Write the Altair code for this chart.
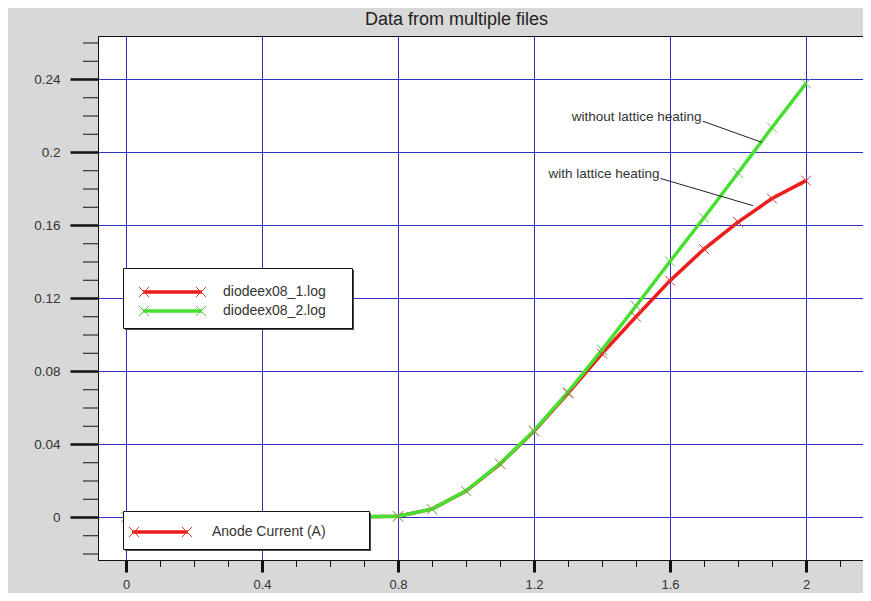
import altair as alt
import pandas as pd

# ---------------- data ----------------
x_vals = [0.0, 0.1, 0.2, 0.3, 0.4, 0.5, 0.6, 0.7, 0.8, 0.9, 1.0,
          1.1, 1.2, 1.3, 1.4, 1.5, 1.6, 1.7, 1.8, 1.9, 2.0]
with_heating = [0.0, 0.0, 0.0, 0.0, 0.0, 0.0, 0.0, 0.0001, 0.0004, 0.0043, 0.0142,
                0.0290, 0.0470, 0.0678, 0.0895, 0.1097, 0.1295, 0.1468, 0.1616, 0.1745, 0.1843]
without_heating = [0.0, 0.0, 0.0, 0.0, 0.0, 0.0, 0.0, 0.0001, 0.0004, 0.0043, 0.0143,
                   0.0292, 0.0473, 0.0684, 0.0916, 0.1156, 0.1400, 0.1640, 0.1885, 0.2134, 0.2376]
series_names = ["diodeex08_1.log", "diodeex08_2.log"]
quantity_name = "Anode Current (A)"
title_text = "Data from multiple files"

annot_text = ["without lattice heating", "with lattice heating"]
leader_x = [1.696, 1.572]
leader_y = [0.2169, 0.1855]
leader_x2 = [1.870, 1.844]
leader_y2 = [0.2053, 0.1706]

x_major = [0.0, 0.4, 0.8, 1.2, 1.6, 2.0]
x_minor = [0.1, 0.2, 0.3, 0.5, 0.6, 0.7, 0.9, 1.0, 1.1, 1.3, 1.4, 1.5, 1.7, 1.8, 1.9, 2.1]
y_major = [0.0, 0.04, 0.08, 0.12, 0.16, 0.2, 0.24]
y_minor = [-0.02, -0.01, 0.01, 0.02, 0.03, 0.05, 0.06, 0.07, 0.09, 0.1, 0.11, 0.13,
           0.14, 0.15, 0.17, 0.18, 0.19, 0.21, 0.22, 0.23, 0.25, 0.26]

# ---------------- styling / layout ----------------
RED = "#ee1b1b"
GREEN = "#45e12e"
RED_X = "#d83a2a"
GREEN_X = "#5ec84a"
GRID = "#2f2fc8"
BG = "#d8d8d8"
INK = "#111111"
FONT = "Liberation Sans"
PLOT_W, PLOT_H = 765, 524
# chosen so that every major grid line falls on a whole pixel (crisp lines)
X_DOMAIN = [-28 / 340, (PLOT_W - 28) / 340]
Y_DOMAIN = [-(PLOT_H - 481) / 1825, 481 / 1825]
XSHAPE = "M-1,-1L1,1M-1,1L1,-1"

df = pd.DataFrame({
    "V": x_vals * 2,
    "I": with_heating + without_heating,
    "file": [series_names[0]] * len(x_vals) + [series_names[1]] * len(x_vals),
})
ann = pd.DataFrame({"text": annot_text, "x": leader_x, "y": leader_y,
                    "x2": leader_x2, "y2": leader_y2})

xscale = alt.Scale(domain=X_DOMAIN, nice=False, zero=False)
yscale = alt.Scale(domain=Y_DOMAIN, nice=False, zero=False)

x_axis = alt.Axis(
    values=x_major, title=None, orient="bottom", format="~g",
    grid=True, gridColor=GRID, gridWidth=1, gridOpacity=1,
    tickSize=12, tickWidth=3, tickColor=INK, domainColor=INK, domainWidth=1,
    labelFont=FONT, labelFontSize=13, labelColor="#333333",
    labelPadding=6, labelOverlap=False, labelFlush=False, labelBound=False,
)
y_axis = alt.Axis(
    values=y_major, title=None, orient="left", format="~g",
    grid=True, gridColor=GRID, gridWidth=1, gridOpacity=1,
    tickSize=28, tickWidth=2.5, tickColor=INK, domainColor=INK, domainWidth=1,
    labelFont=FONT, labelFontSize=13.5, labelColor="#333333",
    labelPadding=10, labelOverlap=False, labelFlush=False, labelBound=False,
)

base = alt.Chart(df)

red_line = base.transform_filter(alt.datum.file == series_names[0]).mark_line(
    color=RED, strokeWidth=3.5
).encode(
    x=alt.X("V:Q", scale=xscale, axis=x_axis),
    y=alt.Y("I:Q", scale=yscale, axis=y_axis),
)


def series_line(name, color):
    return base.transform_filter(alt.datum.file == name).mark_line(
        color=color, strokeWidth=3.5
    ).encode(x=alt.X("V:Q", scale=xscale), y=alt.Y("I:Q", scale=yscale))


def series_marks(name, color):
    return base.transform_filter(alt.datum.file == name).mark_point(
        shape=XSHAPE, size=100, filled=False, strokeWidth=1, color=color, opacity=1
    ).encode(x=alt.X("V:Q", scale=xscale), y=alt.Y("I:Q", scale=yscale))


green_line = series_line(series_names[1], GREEN)
red_marks = series_marks(series_names[0], RED_X)
green_marks = series_marks(series_names[1], GREEN_X)

# minor ticks, placed by the same scales
minor_x = alt.Chart(pd.DataFrame({"v": x_minor})).mark_rule(
    color=INK, strokeWidth=1, xOffset=0.5).encode(
    x=alt.X("v:Q", scale=xscale), y=alt.value(PLOT_H), y2=alt.value(PLOT_H + 7))
minor_y = alt.Chart(pd.DataFrame({"v": y_minor})).mark_rule(
    color=INK, strokeWidth=1, yOffset=0.5).encode(
    y=alt.Y("v:Q", scale=yscale), x=alt.value(-15), x2=alt.value(0))

leaders = alt.Chart(ann).mark_rule(color="#222222", strokeWidth=1).encode(
    x=alt.X("x:Q", scale=xscale), y=alt.Y("y:Q", scale=yscale),
    x2="x2:Q", y2="y2:Q",
)
ann_text = alt.Chart(ann).mark_text(
    align="right", baseline="alphabetic", dx=-1, font=FONT, fontSize=13.5, color="#333333"
).encode(
    x=alt.X("x:Q", scale=xscale), y=alt.Y("y:Q", scale=yscale), text="text:N"
)

# ---------------- legend boxes (decoration, pixel coordinates inside plot) ----------------
boxes = pd.DataFrame({"x": [25.5, 25.5], "x2": [254.5, 271.5], "y": [232.5, 475.5], "y2": [292.5, 513.5]})
shadow = pd.DataFrame({"x": [27, 27], "x2": [256, 273], "y": [234, 477], "y2": [294, 515]})
leg_lines = pd.DataFrame({"x": [45, 45, 34], "x2": [104, 104, 90],
                          "y": [256, 275, 496], "c": [RED, GREEN, RED]})
leg_marks = pd.DataFrame({"x": [46, 103, 46, 103, 36, 89],
                          "y": [256, 256, 275, 275, 496, 496],
                          "c": [RED_X, RED_X, GREEN_X, GREEN_X, RED_X, RED_X]})
leg_labels = pd.DataFrame({"x": [125, 125, 114], "y": [256, 275, 496],
                           "t": [series_names[0], series_names[1], quantity_name]})


def px(f):
    return alt.X(f, scale=None)


def py(f):
    return alt.Y(f, scale=None)


shadow_l = alt.Chart(shadow).mark_rect(color="#4a4a4a").encode(
    x=px("x:Q"), x2="x2:Q", y=py("y:Q"), y2="y2:Q")
box_l = alt.Chart(boxes).mark_rect(fill="white", stroke=INK, strokeWidth=1).encode(
    x=px("x:Q"), x2="x2:Q", y=py("y:Q"), y2="y2:Q")
legline_l = alt.Chart(leg_lines).mark_rule(strokeWidth=3.5).encode(
    x=px("x:Q"), x2="x2:Q", y=py("y:Q"), color=alt.Color("c:N", scale=None))
legmark_l = alt.Chart(leg_marks).mark_point(
    shape=XSHAPE, size=100, filled=False, strokeWidth=1, opacity=1).encode(
    x=px("x:Q"), y=py("y:Q"), color=alt.Color("c:N", scale=None))
leglabel_l = alt.Chart(leg_labels).mark_text(
    align="left", baseline="middle", font=FONT, fontSize=14, color="#333333").encode(
    x=px("x:Q"), y=py("y:Q"), text="t:N")

chart = alt.layer(
    red_line, green_line, red_marks, green_marks, minor_x, minor_y, leaders, ann_text,
    shadow_l, box_l, legline_l, legmark_l, leglabel_l,
).properties(
    width=PLOT_W, height=PLOT_H,
    background=BG,
    padding={"left": 90, "top": 28, "right": 0, "bottom": 33},
    autosize=alt.AutoSizeParams(type="none"),
    title=alt.TitleParams(title_text, font=FONT, fontSize=18, fontWeight="normal",
                          color="#222222", anchor="middle", dx=-24, offset=7),
).configure_view(stroke=INK, strokeWidth=1, fill="white")

chart.save("out.html", embed_options={"renderer": "svg", "actions": False})
